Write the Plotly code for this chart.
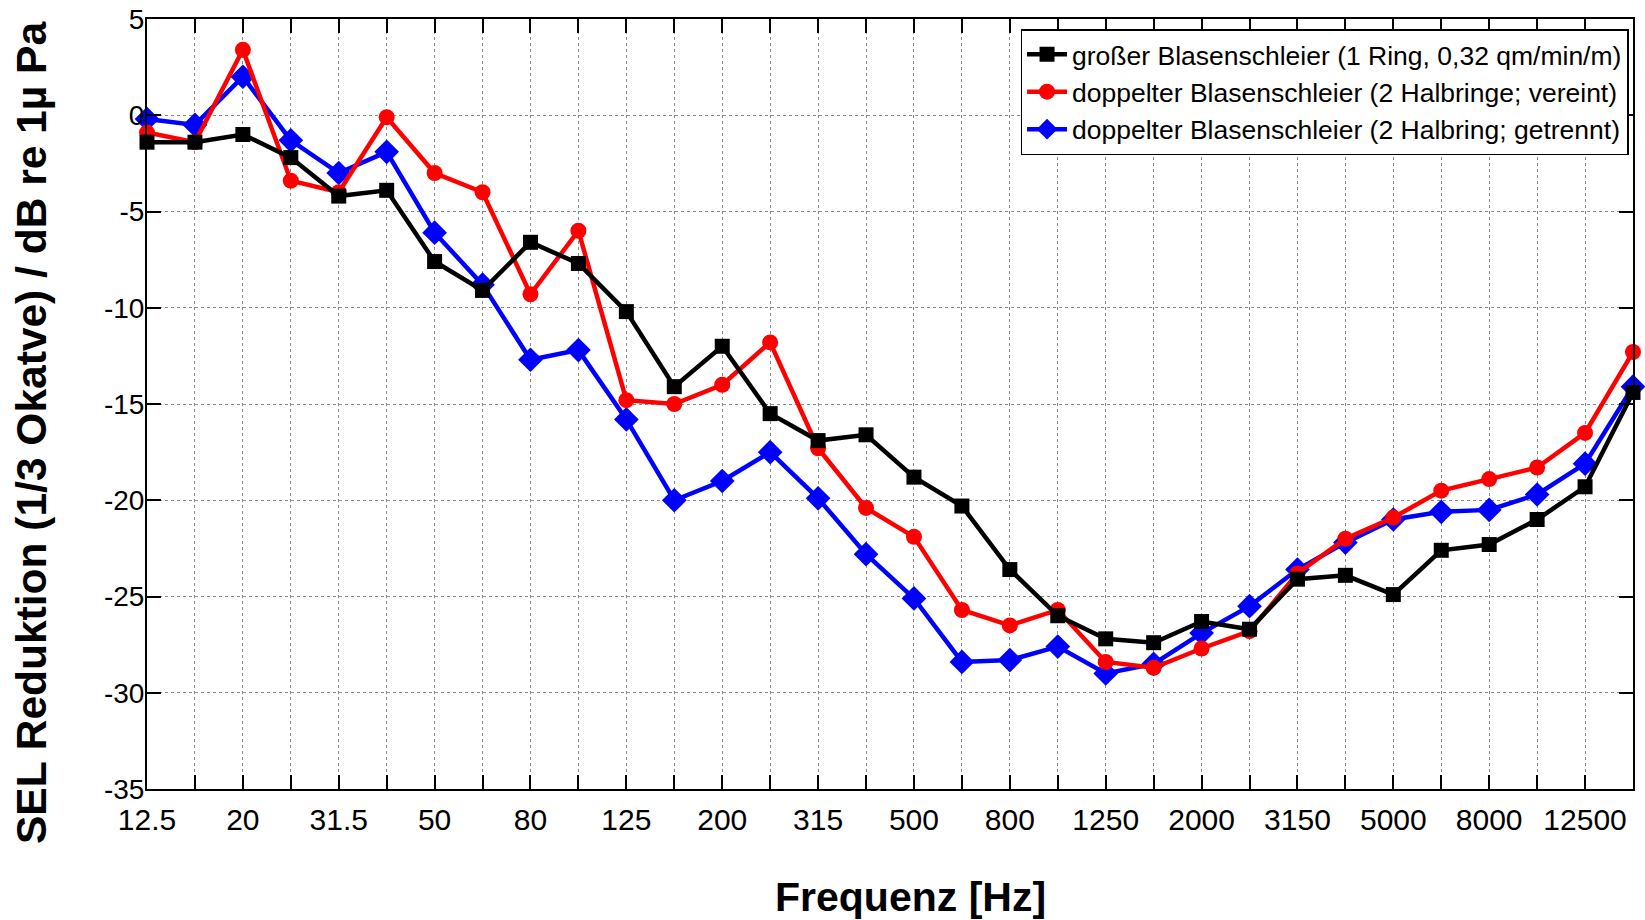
import plotly.graph_objects as go

freqs = ["12.5", "16", "20", "25", "31.5", "40", "50", "63", "80", "100", "125", "160",
         "200", "250", "315", "400", "500", "630", "800", "1000", "1250", "1600", "2000",
         "2500", "3150", "4000", "5000", "6300", "8000", "10000", "12500", "16000"]

black_vals = [-1.4, -1.4, -1.0, -2.2, -4.2, -3.9, -7.6, -9.1, -6.6, -7.7, -10.2, -14.1,
              -12.0, -15.5, -16.9, -16.6, -18.8, -20.3, -23.6, -26.0, -27.2, -27.4, -26.3,
              -26.7, -24.1, -23.9, -24.9, -22.6, -22.3, -21.0, -19.3, -14.4]
red_vals = [-0.9, -1.4, 3.4, -3.4, -4.0, -0.1, -3.0, -4.0, -9.3, -6.0, -14.8, -15.0,
            -14.0, -11.8, -17.3, -20.4, -21.9, -25.7, -26.5, -25.7, -28.4, -28.7, -27.7,
            -26.8, -23.8, -22.0, -20.9, -19.5, -18.9, -18.3, -16.5, -12.3]
blue_vals = [-0.2, -0.5, 2.0, -1.3, -3.0, -1.9, -6.1, -8.8, -12.7, -12.2, -15.8, -20.0,
             -19.0, -17.5, -19.9, -22.8, -25.1, -28.4, -28.3, -27.6, -29.0, -28.5, -26.9,
             -25.5, -23.6, -22.2, -21.0, -20.6, -20.5, -19.7, -18.1, -14.1]

names = ["großer Blasenschleier (1 Ring, 0,32 qm/min/m)",
         "doppelter Blasenschleier (2 Halbringe; vereint)",
         "doppelter Blasenschleier (2 Halbring; getrennt)"]

x_title = "Frequenz [Hz]"
y_title = "SEL Reduktion (1/3 Okatve) / dB re 1µ Pa"

tick_text = [f if i % 2 == 0 else "" for i, f in enumerate(freqs)]
y_ticks = [5, 0, -5, -10, -15, -20, -25, -30, -35]

fig = go.Figure()
fig.add_trace(go.Scatter(x=freqs, y=blue_vals, name=names[2], mode="lines+markers",
                         line=dict(color="#0000ff", width=4.5),
                         marker=dict(symbol="diamond", size=19, color="#0000ff"),
                         cliponaxis=False, legendrank=3))
fig.add_trace(go.Scatter(x=freqs, y=red_vals, name=names[1], mode="lines+markers",
                         line=dict(color="#ff0000", width=4.5),
                         marker=dict(symbol="circle", size=16, color="#ff0000"),
                         cliponaxis=False, legendrank=2))
fig.add_trace(go.Scatter(x=freqs, y=black_vals, name=names[0], mode="lines+markers",
                         line=dict(color="#000000", width=4.5),
                         marker=dict(symbol="square", size=15, color="#000000"),
                         cliponaxis=False, legendrank=1))

font_family = "Liberation Sans, Arial, sans-serif"

fig.update_layout(
    width=1645, height=920,
    margin=dict(l=147, r=12, t=19, b=131),
    paper_bgcolor="white", plot_bgcolor="white",
    font=dict(family=font_family, color="black"),
    showlegend=True,
    legend=dict(x=0.997, y=0.987, xanchor="right", yanchor="top",
                bgcolor="white", bordercolor="black", borderwidth=1.5,
                font=dict(size=26.5, family=font_family, color="black"),
                traceorder="normal", itemwidth=40),
    xaxis=dict(
        type="category", range=[0, len(freqs) - 1], automargin=False,
        tickmode="array", tickvals=freqs, ticktext=tick_text,
        ticks="inside", ticklen=14, tickwidth=1.5, tickcolor="black",
        showline=True, linecolor="black", linewidth=2, mirror="ticks",
        showgrid=True, gridcolor="#8a8a8a", gridwidth=1, griddash="dot",
        tickfont=dict(size=30, family=font_family), ticklabelstandoff=3,
        zeroline=False,
    ),
    yaxis=dict(
        range=[-35, 5], automargin=False,
        tickmode="array", tickvals=y_ticks, ticktext=[str(v) for v in y_ticks],
        ticks="inside", ticklen=14, tickwidth=1.5, tickcolor="black",
        showline=True, linecolor="black", linewidth=2, mirror="ticks",
        showgrid=True, gridcolor="#8a8a8a", gridwidth=1, griddash="dot",
        tickfont=dict(size=28, family=font_family), ticklabelstandoff=-5,
        zeroline=False,
    ),
    annotations=[
        dict(text=f"<b>{x_title}</b>", xref="paper", yref="paper", x=0.5141, y=-0.1403,
             xanchor="center", yanchor="middle", showarrow=False,
             font=dict(size=41, family=font_family, color="black")),
        dict(text=f"<b>{y_title}</b>", xref="paper", yref="paper", x=-0.0781, y=0.4623,
             xanchor="center", yanchor="middle", showarrow=False, textangle=-90,
             font=dict(size=42.5, family=font_family, color="black")),
    ],
)

fig.write_html("out.html")
